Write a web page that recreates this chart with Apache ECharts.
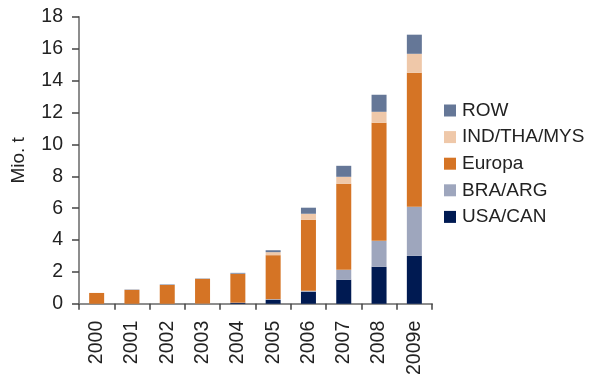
<!DOCTYPE html>
<html>
<head>
<meta charset="utf-8">
<script src="https://cdn.jsdelivr.net/npm/echarts@6/dist/echarts.min.js"></script>
<style>
  html, body { margin: 0; padding: 0; background: #fff; }
  #chart { width: 589px; height: 378px; }
</style>
</head>
<body>
<div id="chart"></div>
<script>
// Years on the category axis
const years = ['2000', '2001', '2002', '2003', '2004', '2005', '2006', '2007', '2008', '2009e'];

// Production by region, Mio. t
const usaCan    = [0,    0,    0,    0,    0.06, 0.25, 0.75, 1.51, 2.32, 3.01];
const braArg    = [0,    0,    0,    0.01, 0.01, 0.04, 0.07, 0.62, 1.63, 3.08];
const europa    = [0.68, 0.87, 1.18, 1.55, 1.80, 2.76, 4.45, 5.40, 7.41, 8.41];
const indThaMys = [0,    0,    0,    0.01, 0.02, 0.19, 0.38, 0.44, 0.69, 1.19];
const row       = [0,    0.02, 0.03, 0.02, 0.05, 0.12, 0.38, 0.69, 1.07, 1.20];

// Y axis range
const yMin = 0, yMax = 18, yStep = 2;

const FONT = '"Liberation Sans", Arial, sans-serif';
const TEXT = '#222222';

const seriesDefs = [
  { name: 'USA/CAN',     data: usaCan,    color: '#001a52' },
  { name: 'BRA/ARG',     data: braArg,    color: '#9ea6bd' },
  { name: 'Europa',      data: europa,    color: '#d57425' },
  { name: 'IND/THA/MYS', data: indThaMys, color: '#efc8a9' },
  { name: 'ROW',         data: row,       color: '#657797' }
];

const chart = echarts.init(document.getElementById('chart'), null, { renderer: 'canvas' });

chart.setOption({
  animation: false,
  backgroundColor: '#ffffff',
  textStyle: { fontFamily: FONT, color: TEXT },
  grid: { left: 79, right: 157, top: 17, bottom: 74, containLabel: false },
  legend: {
    orient: 'vertical',
    left: 444,
    top: 101,
    padding: 0,
    itemWidth: 12,
    itemHeight: 12,
    itemGap: 7.6,
    icon: 'rect',
    data: ['ROW', 'IND/THA/MYS', 'Europa', 'BRA/ARG', 'USA/CAN'],
    textStyle: { fontFamily: FONT, fontSize: 19, lineHeight: 18, color: TEXT, padding: [0, 0, 0, 1] }
  },
  xAxis: {
    type: 'category',
    data: years,
    boundaryGap: true,
    axisLine: { lineStyle: { color: '#8d8d8d', width: 2 } },
    axisTick: { show: true, length: 6, lineStyle: { color: '#444', width: 1.5 } },
    axisLabel: {
      rotate: 90,
      margin: 17,
      fontFamily: FONT,
      fontSize: 19.5,
      color: TEXT,
      interval: 0
    }
  },
  yAxis: {
    type: 'value',
    min: yMin,
    max: yMax,
    interval: yStep,
    name: 'Mio. t',
    nameLocation: 'middle',
    nameGap: 51,
    nameRotate: 90,
    nameTextStyle: { fontFamily: FONT, fontSize: 19, color: TEXT },
    splitLine: { show: false },
    axisLine: { show: true, lineStyle: { color: '#8d8d8d', width: 2 } },
    axisTick: { show: true, length: 7, lineStyle: { color: '#444', width: 1.5 } },
    axisLabel: { margin: 16, fontFamily: FONT, fontSize: 19.5, color: TEXT }
  },
  series: seriesDefs.map(s => ({
    name: s.name,
    type: 'bar',
    stack: 'total',
    data: s.data,
    barWidth: 15,
    itemStyle: { color: s.color },
    emphasis: { disabled: true }
  }))
});
</script>
</body>
</html>
